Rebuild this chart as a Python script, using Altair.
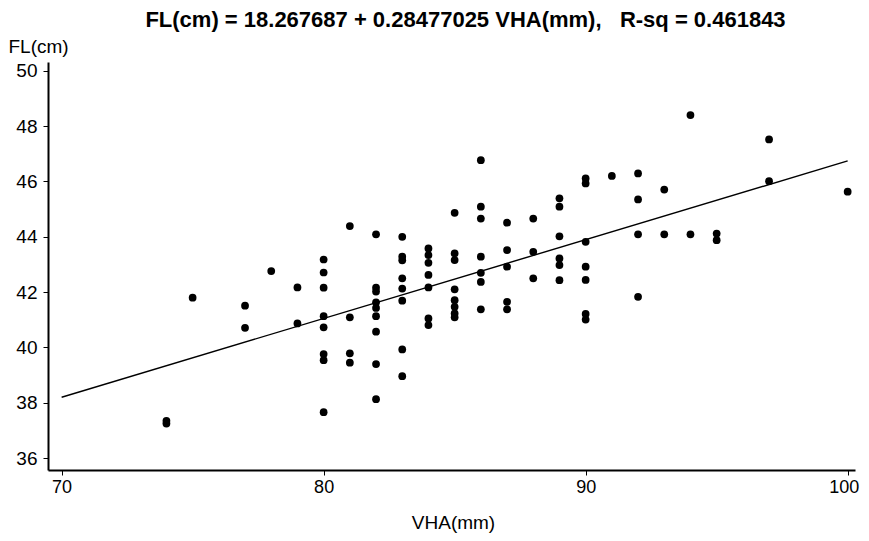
import altair as alt
import pandas as pd

vha = ([74, 74, 75, 77, 77, 78, 79, 79]
       + [80] * 8 + [81] * 4 + [82] * 9 + [83] * 8 + [84] * 7 + [85] * 8
       + [86] * 7 + [87] * 5 + [88] * 3 + [89] * 6 + [90] * 7 + [91]
       + [92] * 4 + [93] * 2 + [94] * 2 + [95] * 2 + [97] * 2 + [100])
fl = [37.25, 37.35, 41.80, 41.51, 40.71, 42.76, 42.17, 40.87,
      43.18, 42.71, 42.16, 41.13, 40.73, 39.76, 39.54, 37.66,
      44.39, 41.09, 39.79, 39.45,
      44.09, 42.16, 42.02, 41.63, 41.43, 41.13, 40.57, 39.40, 38.13,
      44.00, 43.28, 43.15, 42.50, 42.13, 41.69, 39.93, 38.96,
      43.58, 43.34, 43.06, 42.62, 42.17, 41.05, 40.81,
      44.87, 43.40, 43.16, 42.10, 41.71, 41.47, 41.23, 41.09,
      46.77, 45.09, 44.66, 43.28, 42.70, 42.37, 41.38,
      44.51, 43.52, 42.92, 41.65, 41.38,
      44.66, 43.46, 42.50,
      45.39, 45.09, 44.02, 43.22, 42.98, 42.43,
      46.11, 45.93, 43.82, 42.92, 42.44, 41.21, 41.01,
      46.20,
      46.29, 45.35, 44.09, 41.83,
      45.71, 44.09,
      48.40, 44.09,
      44.12, 43.88,
      47.52, 46.01,
      45.63]

# Fitted model stated in the title
intercept = 18.267687
slope = 0.28477025
line_x = [70, 100]

x_ticks = [70, 80, 90, 100]
y_ticks = [36, 38, 40, 42, 44, 46, 48, 50]

title_text = "FL(cm) = 18.267687 + 0.28477025 VHA(mm),\u00a0\u00a0 R-sq = 0.461843"

FONT = "Liberation Sans, Arial, sans-serif"

df = pd.DataFrame({"VHA": vha, "FL": fl})
line_df = pd.DataFrame({"VHA": line_x})

xs = alt.Scale(domain=[69.48, 100.28], nice=False, zero=False)
ys = alt.Scale(domain=[35.57, 50.32], nice=False, zero=False)

x_axis = alt.Axis(values=x_ticks, title="VHA(mm)", grid=False,
                  domainColor="black", domainWidth=2, tickColor="black",
                  tickSize=5, tickWidth=1, labelFont=FONT, labelFontSize=18,
                  labelColor="black", labelPadding=3,
                  labelOffset=alt.ExprRef(expr="datum.value == 100 ? -4 : 0"),
                  titleFont=FONT,
                  titleFontSize=19, titleFontWeight="normal", titleColor="black",
                  titleX=405, titleY=52, titleBaseline="middle", titleAlign="center")
y_axis = alt.Axis(values=y_ticks, title="FL(cm)", grid=False,
                  domainColor="black", domainWidth=2, tickColor="black",
                  tickSize=5, tickWidth=1, labelFont=FONT, labelFontSize=19,
                  labelColor="black", labelPadding=6, titleFont=FONT,
                  titleFontSize=19, titleFontWeight="normal", titleColor="black",
                  titleAngle=0, titleX=-40, titleY=-16, titleAlign="left",
                  titleBaseline="middle")

points = alt.Chart(df).mark_circle(size=60, color="black", opacity=1).encode(
    x=alt.X("VHA:Q", scale=xs, axis=x_axis),
    y=alt.Y("FL:Q", scale=ys, axis=y_axis),
)

line = alt.Chart(line_df).transform_calculate(
    FL=f"{intercept} + {slope} * datum.VHA"
).mark_line(color="black", strokeWidth=1.4).encode(
    x=alt.X("VHA:Q", scale=xs),
    y=alt.Y("FL:Q", scale=ys),
)

chart = alt.layer(line, points).properties(
    width=807, height=408,
    autosize=alt.AutoSizeParams(type="none"),
    padding={"left": 40, "top": 54, "right": 6, "bottom": 63},
    title=alt.TitleParams(title_text, anchor="middle", frame="group", dx=14,
                          offset=-12, baseline="alphabetic", font=FONT,
                          fontSize=22, fontWeight="bold", color="black"),
).configure_view(strokeWidth=0, stroke="transparent")

chart.save("out.html", embed_options={"renderer": "svg", "actions": False})
